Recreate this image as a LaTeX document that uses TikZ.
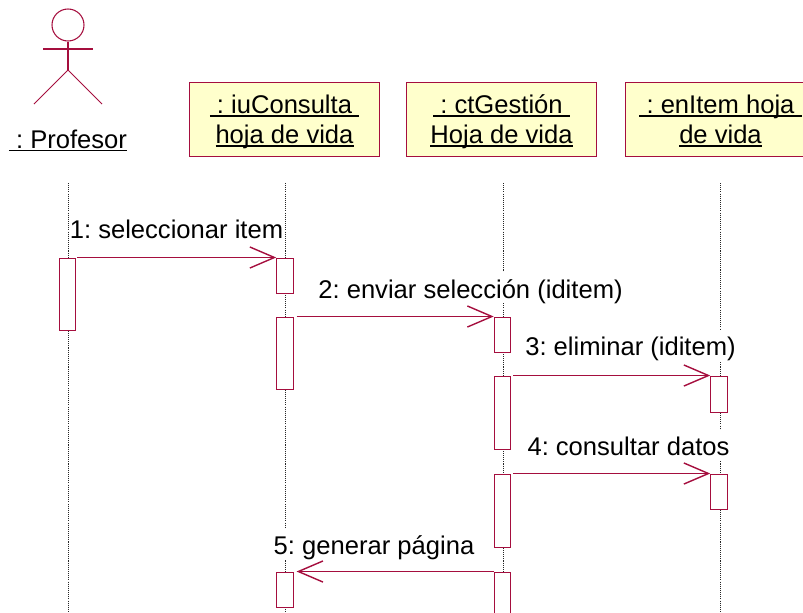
\documentclass[tikz,border=0pt]{standalone}
\usepackage{fontspec}
\setmainfont{Liberation Sans}
\usetikzlibrary{arrows.meta}

\definecolor{umlline}{HTML}{A50E3E}
\definecolor{umlfill}{HTML}{FFFFCC}
\newsavebox{\ulbox}
\newcommand{\ulname}[1]{\sbox{\ulbox}{#1}\rule[-1pt]{0pt}{7.1pt}\smash{\rlap{\usebox{\ulbox}}}\rule[-0.95pt]{\wd\ulbox}{0.5pt}}

\tikzset{
	every node/.style={font=\fontsize{7.28}{8.55}\selectfont\frenchspacing, text=black},
	object/.style={draw=umlline, fill=umlfill, line width=0.3pt, minimum width=1.9cm, minimum height=0.74cm, align=center, inner sep=0},
	lifeline/.style={draw=black!85, line width=0.28pt, dash pattern=on 0.3pt off 0.3pt},
	bar/.style={draw=umlline, fill=white, line width=0.3pt, minimum width=0.165cm, inner sep=0, anchor=north},
	msg/.style={draw=umlline, line width=0.4pt, -{Straight Barb[length=7pt, width=6pt, line width=0.4pt]}},
	msglabel/.style={fill=white, inner sep=0, text height=0.26cm, text depth=0.05cm}
}

\begin{document}
\begin{tikzpicture}
	\clip (0,-6.12) rectangle (8.03,0);

	% lifelines
	\foreach \name/\x in {lprofesor/0.68, lconsulta/2.85, lgestion/5.03, litem/7.20}{
			\coordinate (\name top) at (\x,-1.83);
			\coordinate (\name end) at (\x,-6.12);
			\draw[lifeline] (\name top) -- (\name end);
		}

	% actor
	\node[draw=umlline, circle, line width=0.3pt, minimum size=0.32cm, inner sep=0] (head) at (0.68,-0.25) {};
	\coordinate (hip) at (0.68,-0.70);
	\coordinate (armL) at (0.43,-0.49);
	\coordinate (armR) at (0.93,-0.49);
	\coordinate (footL) at (0.34,-1.04);
	\coordinate (footR) at (1.02,-1.04);
	\draw[umlline, line width=0.3pt] (head.south) -- (hip);
	\draw[umlline, line width=0.3pt] (armL) -- (armR);
	\draw[umlline, line width=0.3pt] (footL) -- (hip) -- (footR);
	\node[anchor=base] (profesor) at (0.68,-1.48) {\ulname{\ :\ Profesor}};

	% objects
	\node[object] (consulta) at (2.845,-1.195) {\ulname{\ :\ iuConsulta\ }\\\ulname{hoja de vida}};
	\node[object] (gestion) at (5.015,-1.195) {\ulname{\ :\ ctGestión\ }\\\ulname{Hoja de vida}};
	\node[object] (item) at (7.205,-1.195) {\ulname{\ :\ enItem hoja\ }\\\ulname{de vida}};

	% activation bars
	\foreach \name/\x/\top/\len in {
			a1/0.675/2.575/0.72, b1/2.85/2.575/0.35, b2/2.85/3.165/0.72, b3/2.85/5.715/0.35,
			c1/5.025/3.165/0.35, c2/5.025/3.755/0.73, c3/5.025/4.735/0.73, c4/5.025/5.715/0.70,
			d1/7.19/3.755/0.36, d2/7.19/4.735/0.35}{
			\node[bar, minimum height=\len cm] (\name) at (\x,-\top) {};
		}

	% messages
	\draw[msg, shorten <=0.3pt] (a1.north east) -- (b1.north west);
	\draw[msg, shorten <=0.8pt] (b2.north east) -- (c1.north west);
	\draw[msg, shorten <=0.6pt] (c2.north east) -- (d1.north west);
	\draw[msg, shorten <=0.6pt] (c3.north east) -- (d2.north west);
	\draw[msg, shorten >=0.8pt] (c4.north west) -- (b3.north east);

	% message labels
	\node[msglabel] (m1) at (1.765,-2.275) {1: seleccionar item};
	\node[msglabel] (m2) at (4.705,-2.875) {2: enviar selección (iditem)};
	\node[msglabel] (m3) at (6.305,-3.45) {3: eliminar (iditem)};
	\node[msglabel] (m4) at (6.285,-4.45) {4: consultar datos};
	\node[msglabel] (m5) at (3.74,-5.435) {5: generar página};
\end{tikzpicture}
\end{document}
